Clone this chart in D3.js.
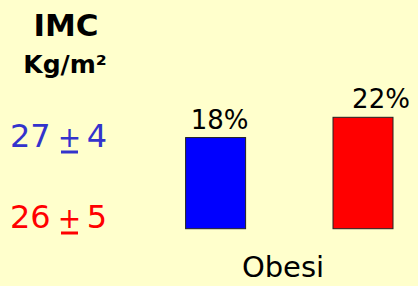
<!DOCTYPE html>
<html>
<head>
<meta charset="utf-8">
<script src="https://cdn.jsdelivr.net/npm/d3@7"></script>
<style>
  html, body { margin: 0; padding: 0; background: #ffffcc; }
  svg { display: block; }
  text { font-family: "Comic Sans MS", "DejaVu Sans", sans-serif; }
</style>
</head>
<body>
<div id="graph"></div>
<script>
// groups and their obesity share (%)
const groups = ["g1", "g2"];
const obesity = [18, 22];
const colors = ["#0000ff", "#ff0000"];
// IMC mean +/- sd per group
const imcMean = [27, 26];
const imcSd = [4, 5];
const textColors = ["#3333cc", "#ff0000"];

const width = 418, height = 286;

const svg = d3.select("#graph")
  .append("svg")
  .attr("width", width)
  .attr("height", height);

svg.append("rect")
  .attr("width", width)
  .attr("height", height)
  .attr("fill", "#ffffcc");

// scales
const x = d3.scalePoint()
  .domain(groups)
  .range([215.6, 363]);
const barWidth = 60;

const y = d3.scaleLinear()
  .domain([0, 22])
  .range([228.7, 117.3]);

// bars
svg.selectAll("rect.bar")
  .data(groups)
  .enter()
  .append("rect")
  .attr("class", "bar")
  .attr("x", d => x(d) - barWidth / 2)
  .attr("y", (d, i) => y(obesity[i]))
  .attr("width", barWidth)
  .attr("height", (d, i) => y(0) - y(obesity[i]))
  .attr("fill", (d, i) => colors[i])
  .attr("stroke", "#222")
  .attr("stroke-width", 1);

// value labels (the second one sits a bit to the right)
const labelShift = [4, 18];
svg.selectAll("text.val")
  .data(groups)
  .enter()
  .append("text")
  .attr("class", "val")
  .attr("x", (d, i) => x(d) + labelShift[i])
  .attr("y", (d, i) => y(obesity[i]) - 9)
  .attr("text-anchor", "middle")
  .attr("font-size", 26)
  .attr("fill", "#000")
  .text((d, i) => obesity[i] + "%");

// category label
svg.append("text")
  .attr("x", 283)
  .attr("y", 277)
  .attr("text-anchor", "middle")
  .attr("font-size", 29)
  .text("Obesi");

// left header
svg.append("text")
  .attr("x", 66)
  .attr("y", 36)
  .attr("text-anchor", "middle")
  .attr("font-size", 31)
  .attr("font-weight", "bold")
  .text("IMC");

svg.append("text")
  .attr("x", 65)
  .attr("y", 73)
  .attr("text-anchor", "middle")
  .attr("font-size", 25)
  .attr("font-weight", "bold")
  .text("Kg/m²");

// IMC rows: mean, underlined plus, sd
const rowY = [147, 228];
groups.forEach((g, i) => {
  const row = svg.append("g")
    .attr("fill", textColors[i])
    .attr("font-size", 32);
  row.append("text")
    .attr("x", 10)
    .attr("y", rowY[i])
    .text(imcMean[i]);
  row.append("text")
    .attr("x", 69.5)
    .attr("y", rowY[i])
    .attr("text-anchor", "middle")
    .attr("font-size", 28)
    .text("+");
  row.append("text")
    .attr("x", 107)
    .attr("y", rowY[i])
    .attr("text-anchor", "end")
    .text(imcSd[i]);
  row.append("line")
    .attr("x1", 61)
    .attr("x2", 78)
    .attr("y1", rowY[i] + 5)
    .attr("y2", rowY[i] + 5)
    .attr("stroke", textColors[i])
    .attr("stroke-width", 3);
});
</script>
</body>
</html>
